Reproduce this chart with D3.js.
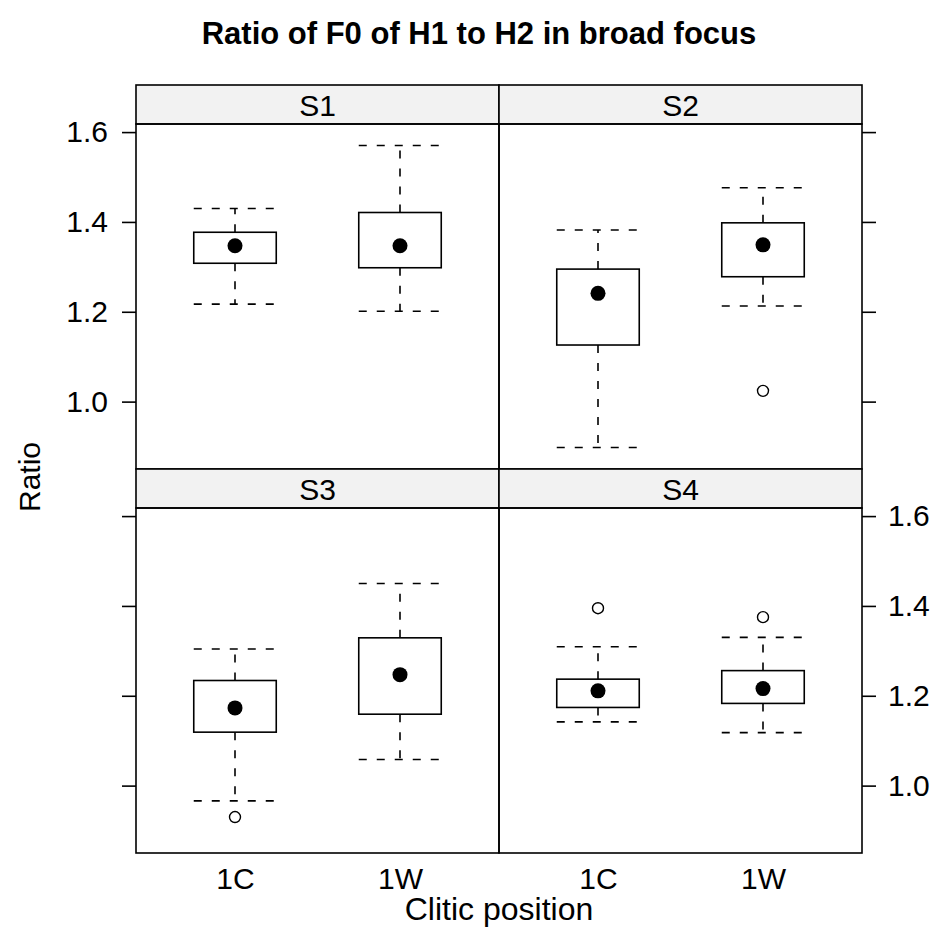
<!DOCTYPE html>
<html>
<head>
<meta charset="utf-8">
<script src="https://cdn.jsdelivr.net/npm/d3@7"></script>
<style>
  html, body { margin: 0; padding: 0; background: #fff; }
  svg text { font-family: "Liberation Sans", Arial, Helvetica, sans-serif; fill: #000; }
</style>
</head>
<body>
<svg id="chart" width="937" height="947"></svg>
<script>
// ---- data ----
const subjects = ["S1", "S2", "S3", "S4"];
const positions = ["1C", "1W"];
const yTicks = [1.0, 1.2, 1.4, 1.6];
// order: S1-1C, S1-1W, S2-1C, S2-1W, S3-1C, S3-1W, S4-1C, S4-1W
const whiskerLow  = [1.217, 1.201, 0.898, 1.213, 0.966, 1.058, 1.142, 1.118];
const q1          = [1.308, 1.298, 1.126, 1.278, 1.119, 1.159, 1.174, 1.183];
const medians     = [1.347, 1.347, 1.241, 1.349, 1.173, 1.247, 1.211, 1.216];
const q3          = [1.377, 1.421, 1.295, 1.398, 1.234, 1.329, 1.237, 1.256];
const whiskerHigh = [1.430, 1.570, 1.382, 1.476, 1.304, 1.450, 1.309, 1.330];
const outlierSubject = ["S2", "S3", "S4", "S4"];
const outlierPos     = ["1W", "1C", "1C", "1W"];
const outlierValue   = [1.024, 0.930, 1.395, 1.375];

// ---- layout ----
const svg = d3.select("#chart");
const colX = [136, 499];
const panelW = 363;
const rowTop = [85, 469];   // strip tops
const stripH = 39;
const panelH = 345;
const tickLen = 14;
const fontTick = 30;

svg.append("text")
  .attr("x", 479).attr("y", 44)
  .attr("text-anchor", "middle")
  .style("font-size", "31px").style("font-weight", "bold")
  .text("Ratio of F0 of H1 to H2 in broad focus");

subjects.forEach((s, si) => {
  const col = si % 2, row = Math.floor(si / 2);
  const x0 = colX[col];
  const sTop = rowTop[row];
  const pTop = sTop + stripH;
  const pBot = pTop + panelH;

  const x = d3.scalePoint().domain(positions).range([x0, x0 + panelW]).padding(0.6);
  const y = d3.scaleLinear().domain([0.850, 1.618]).range([pBot, pTop]);
  const boxW = x.step() * 0.5;

  const g = svg.append("g");

  // strip
  g.append("rect").attr("x", x0).attr("y", sTop).attr("width", panelW).attr("height", stripH)
    .attr("fill", "#f2f2f2").attr("stroke", "#000").attr("stroke-width", 1.6);
  g.append("text").attr("x", x0 + panelW / 2).attr("y", sTop + 31)
    .attr("text-anchor", "middle").style("font-size", fontTick + "px").text(s);

  // panel frame
  g.append("rect").attr("x", x0).attr("y", pTop).attr("width", panelW).attr("height", panelH)
    .attr("fill", "none").attr("stroke", "#000").attr("stroke-width", 1.6);

  // y axis: left for col 0, right for col 1
  const axisG = g.append("g");
  if (col === 0) {
    axisG.attr("transform", `translate(${x0},0)`)
      .call(d3.axisLeft(y).tickValues(yTicks).tickSize(tickLen).tickPadding(14)
        .tickFormat(row === 0 ? d3.format(".1f") : () => ""));
  } else {
    axisG.attr("transform", `translate(${x0 + panelW},0)`)
      .call(d3.axisRight(y).tickValues(yTicks).tickSize(tickLen).tickPadding(12)
        .tickFormat(row === 1 ? d3.format(".1f") : () => ""));
  }
  axisG.select(".domain").remove();
  axisG.selectAll(".tick line").attr("stroke", "#000").attr("stroke-width", 1.6);
  axisG.selectAll(".tick text").style("font-size", fontTick + "px")
    .style("font-family", '"Liberation Sans", Arial, sans-serif').attr("fill", "#000");

  // x labels on bottom row
  if (row === 1) {
    const xa = g.append("g").attr("transform", `translate(0,${pBot})`)
      .call(d3.axisBottom(x).tickSize(0).tickPadding(15));
    xa.select(".domain").remove();
    xa.selectAll(".tick text").style("font-size", fontTick + "px")
      .style("font-family", '"Liberation Sans", Arial, sans-serif').attr("fill", "#000");
  }

  // boxes
  positions.forEach((p, pi) => {
    const i = si * 2 + pi;
    const cx = x(p);
    const dash = "8,10";
    // whiskers
    g.append("line").attr("x1", cx).attr("x2", cx).attr("y1", y(q3[i])).attr("y2", y(whiskerHigh[i]))
      .attr("stroke", "#000").attr("stroke-width", 1.6).attr("stroke-dasharray", dash);
    g.append("line").attr("x1", cx).attr("x2", cx).attr("y1", y(q1[i])).attr("y2", y(whiskerLow[i]))
      .attr("stroke", "#000").attr("stroke-width", 1.6).attr("stroke-dasharray", dash);
    [whiskerHigh[i], whiskerLow[i]].forEach(v => {
      g.append("line").attr("x1", cx - boxW / 2).attr("x2", cx + boxW / 2)
        .attr("y1", y(v)).attr("y2", y(v))
        .attr("stroke", "#000").attr("stroke-width", 1.6).attr("stroke-dasharray", dash);
    });
    // box
    g.append("rect").attr("x", cx - boxW / 2).attr("y", y(q3[i]))
      .attr("width", boxW).attr("height", y(q1[i]) - y(q3[i]))
      .attr("fill", "#fff").attr("stroke", "#000").attr("stroke-width", 1.6);
    // median dot
    g.append("circle").attr("cx", cx).attr("cy", y(medians[i])).attr("r", 7.5).attr("fill", "#000");
  });

  // outliers
  outlierValue.forEach((v, oi) => {
    if (outlierSubject[oi] !== s) return;
    g.append("circle").attr("cx", x(outlierPos[oi])).attr("cy", y(v)).attr("r", 5.5)
      .attr("fill", "#fff").attr("stroke", "#000").attr("stroke-width", 1.4);
  });
});

// axis titles
svg.append("text").attr("x", 499).attr("y", 920).attr("text-anchor", "middle")
  .style("font-size", "32px").text("Clitic position");
svg.append("text").attr("transform", "translate(40,477) rotate(-90)").attr("text-anchor", "middle")
  .style("font-size", "30px").text("Ratio");
</script>
</body>
</html>
